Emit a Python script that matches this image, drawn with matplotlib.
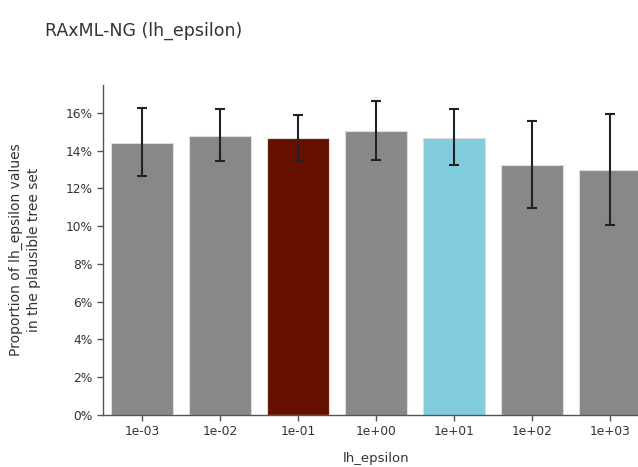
import numpy as np
import matplotlib
matplotlib.use("Agg")
import matplotlib.pyplot as plt
from matplotlib.ticker import PercentFormatter

# values
categories = ['1e-03', '1e-02', '1e-01', '1e+00', '1e+01', '1e+02', '1e+03']
proportions = [14.41, 14.78, 14.65, 15.05, 14.68, 13.25, 12.98]
err_low = [12.66, 13.44, 13.47, 13.51, 13.25, 10.98, 10.08]
err_high = [16.25, 16.23, 15.91, 16.65, 16.21, 15.58, 15.96]
bar_colors = ['#888888', '#888888', '#661100', '#888888', '#82cddd', '#888888', '#888888']

plt.rcParams['font.family'] = ['DejaVu Sans']

fig = plt.figure(figsize=(6.38, 4.67), dpi=100)
# axes runs off the right edge, like the reference
ax = fig.add_axes([103 / 638, 52 / 467, 546 / 638, 330 / 467])

x = np.arange(len(categories))
vals = np.array(proportions)
yerr = np.array([vals - np.array(err_low), np.array(err_high) - vals])

ax.bar(x, vals, width=0.8, color=bar_colors, edgecolor='#dddddd', linewidth=0.8, zorder=2)
ax.errorbar(x, vals, yerr=yerr, fmt='none', ecolor='#222222', elinewidth=1.5,
            capsize=3.5, capthick=1.5, zorder=3)

ax.set_xlim(-0.5, 6.5)
ax.set_ylim(0, 17.48)
ax.set_yticks(np.arange(0, 17, 2))
ax.yaxis.set_major_formatter(PercentFormatter(decimals=0))
ax.set_xticks(x)
ax.set_xticklabels(categories)

for side in ['top', 'right']:
    ax.spines[side].set_visible(False)
for side in ['left', 'bottom']:
    ax.spines[side].set_color('#555555')
    ax.spines[side].set_linewidth(1.0)
ax.tick_params(axis='both', colors='#555555', labelcolor='#333333', labelsize=8.8,
               length=4, width=1.0)

ax.set_xlabel('lh_epsilon', fontsize=9.5, color='#333333', labelpad=10)
ax.set_ylabel('Proportion of lh_epsilon values\nin the plausible tree set',
              fontsize=10, color='#333333', labelpad=18, linespacing=1.35)

fig.text(45 / 638, 1 - 31 / 467, 'RAxML-NG (lh_epsilon)', fontsize=12.5, color='#333333',
         va='center', ha='left')

fig.savefig('out.png', dpi=100)
